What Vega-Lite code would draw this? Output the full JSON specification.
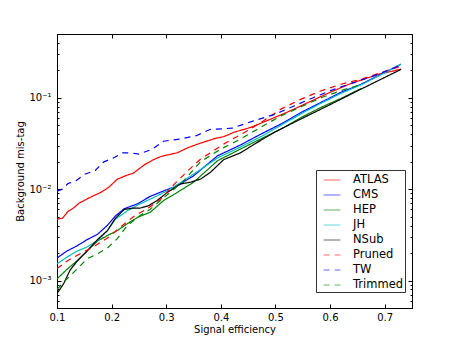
{
  "$schema": "https://vega.github.io/schema/vega-lite/v6.json",
  "width": 355,
  "height": 274,
  "autosize": {"type": "none"},
  "padding": {"left": 57, "top": 34, "right": 45, "bottom": 35},
  "background": "white",
  "config": {
    "font": "DejaVu Sans",
    "view": {"stroke": "black", "strokeWidth": 1},
    "axis": {"domainColor": "black", "tickColor": "black", "labelColor": "black", "titleColor": "black", "grid": false, "labelFont": "DejaVu Sans", "titleFont": "DejaVu Sans", "labelFontSize": 10, "titleFontSize": 10, "titleFontWeight": "normal"},
    "legend": {"labelFont": "DejaVu Sans"}
  },
  "datasets": {
    "curves": [
      {"s": "ATLAS", "x": 0.1, "y": 0.0047}, {"s": "ATLAS", "x": 0.11, "y": 0.0048}, {"s": "ATLAS", "x": 0.12, "y": 0.0057}, {"s": "ATLAS", "x": 0.13, "y": 0.0062}, {"s": "ATLAS", "x": 0.14, "y": 0.007}, {"s": "ATLAS", "x": 0.16, "y": 0.0081}, {"s": "ATLAS", "x": 0.18, "y": 0.0092}, {"s": "ATLAS", "x": 0.195, "y": 0.0105}, {"s": "ATLAS", "x": 0.21, "y": 0.0128}, {"s": "ATLAS", "x": 0.225, "y": 0.014}, {"s": "ATLAS", "x": 0.24, "y": 0.015}, {"s": "ATLAS", "x": 0.26, "y": 0.0185}, {"s": "ATLAS", "x": 0.275, "y": 0.0208}, {"s": "ATLAS", "x": 0.29, "y": 0.0228}, {"s": "ATLAS", "x": 0.32, "y": 0.025}, {"s": "ATLAS", "x": 0.34, "y": 0.0285}, {"s": "ATLAS", "x": 0.36, "y": 0.0315}, {"s": "ATLAS", "x": 0.39, "y": 0.036}, {"s": "ATLAS", "x": 0.405, "y": 0.0375}, {"s": "ATLAS", "x": 0.424, "y": 0.042}, {"s": "ATLAS", "x": 0.455, "y": 0.0475}, {"s": "ATLAS", "x": 0.49, "y": 0.058}, {"s": "ATLAS", "x": 0.52, "y": 0.069}, {"s": "ATLAS", "x": 0.56, "y": 0.089}, {"s": "ATLAS", "x": 0.6, "y": 0.115}, {"s": "ATLAS", "x": 0.64, "y": 0.145}, {"s": "ATLAS", "x": 0.69, "y": 0.182}, {"s": "ATLAS", "x": 0.73, "y": 0.206},
      {"s": "CMS", "x": 0.1, "y": 0.00176}, {"s": "CMS", "x": 0.118, "y": 0.0021}, {"s": "CMS", "x": 0.137, "y": 0.0024}, {"s": "CMS", "x": 0.155, "y": 0.0028}, {"s": "CMS", "x": 0.174, "y": 0.0032}, {"s": "CMS", "x": 0.192, "y": 0.004}, {"s": "CMS", "x": 0.207, "y": 0.0051}, {"s": "CMS", "x": 0.223, "y": 0.0061}, {"s": "CMS", "x": 0.247, "y": 0.0069}, {"s": "CMS", "x": 0.27, "y": 0.0083}, {"s": "CMS", "x": 0.29, "y": 0.0093}, {"s": "CMS", "x": 0.32, "y": 0.0109}, {"s": "CMS", "x": 0.35, "y": 0.014}, {"s": "CMS", "x": 0.394, "y": 0.0232}, {"s": "CMS", "x": 0.436, "y": 0.0305}, {"s": "CMS", "x": 0.473, "y": 0.04}, {"s": "CMS", "x": 0.51, "y": 0.0517}, {"s": "CMS", "x": 0.547, "y": 0.0692}, {"s": "CMS", "x": 0.583, "y": 0.089}, {"s": "CMS", "x": 0.62, "y": 0.115}, {"s": "CMS", "x": 0.657, "y": 0.141}, {"s": "CMS", "x": 0.694, "y": 0.182}, {"s": "CMS", "x": 0.73, "y": 0.233},
      {"s": "HEP", "x": 0.1, "y": 0.00104}, {"s": "HEP", "x": 0.118, "y": 0.00132}, {"s": "HEP", "x": 0.137, "y": 0.00165}, {"s": "HEP", "x": 0.155, "y": 0.0021}, {"s": "HEP", "x": 0.174, "y": 0.0027}, {"s": "HEP", "x": 0.192, "y": 0.0031}, {"s": "HEP", "x": 0.21, "y": 0.0035}, {"s": "HEP", "x": 0.229, "y": 0.0042}, {"s": "HEP", "x": 0.247, "y": 0.0049}, {"s": "HEP", "x": 0.271, "y": 0.0056}, {"s": "HEP", "x": 0.295, "y": 0.0075}, {"s": "HEP", "x": 0.32, "y": 0.0092}, {"s": "HEP", "x": 0.35, "y": 0.0119}, {"s": "HEP", "x": 0.394, "y": 0.0205}, {"s": "HEP", "x": 0.436, "y": 0.0275}, {"s": "HEP", "x": 0.473, "y": 0.0355}, {"s": "HEP", "x": 0.51, "y": 0.0455}, {"s": "HEP", "x": 0.547, "y": 0.061}, {"s": "HEP", "x": 0.583, "y": 0.0785}, {"s": "HEP", "x": 0.62, "y": 0.0985}, {"s": "HEP", "x": 0.657, "y": 0.127},
      {"s": "JH", "x": 0.1, "y": 0.00152}, {"s": "JH", "x": 0.118, "y": 0.0018}, {"s": "JH", "x": 0.137, "y": 0.0021}, {"s": "JH", "x": 0.155, "y": 0.00233}, {"s": "JH", "x": 0.174, "y": 0.00273}, {"s": "JH", "x": 0.192, "y": 0.0035}, {"s": "JH", "x": 0.207, "y": 0.0047}, {"s": "JH", "x": 0.229, "y": 0.0058}, {"s": "JH", "x": 0.25, "y": 0.0068}, {"s": "JH", "x": 0.277, "y": 0.0081}, {"s": "JH", "x": 0.302, "y": 0.0096}, {"s": "JH", "x": 0.33, "y": 0.0122}, {"s": "JH", "x": 0.36, "y": 0.016}, {"s": "JH", "x": 0.394, "y": 0.022}, {"s": "JH", "x": 0.436, "y": 0.029}, {"s": "JH", "x": 0.473, "y": 0.0375}, {"s": "JH", "x": 0.51, "y": 0.05}, {"s": "JH", "x": 0.547, "y": 0.067}, {"s": "JH", "x": 0.583, "y": 0.087}, {"s": "JH", "x": 0.62, "y": 0.112}, {"s": "JH", "x": 0.657, "y": 0.139}, {"s": "JH", "x": 0.694, "y": 0.18}, {"s": "JH", "x": 0.73, "y": 0.235},
      {"s": "NSub", "x": 0.1, "y": 0.00072}, {"s": "NSub", "x": 0.112, "y": 0.00092}, {"s": "NSub", "x": 0.124, "y": 0.0013}, {"s": "NSub", "x": 0.137, "y": 0.00163}, {"s": "NSub", "x": 0.155, "y": 0.0021}, {"s": "NSub", "x": 0.174, "y": 0.0028}, {"s": "NSub", "x": 0.192, "y": 0.0035}, {"s": "NSub", "x": 0.207, "y": 0.0048}, {"s": "NSub", "x": 0.223, "y": 0.006}, {"s": "NSub", "x": 0.238, "y": 0.0062}, {"s": "NSub", "x": 0.252, "y": 0.0062}, {"s": "NSub", "x": 0.268, "y": 0.0066}, {"s": "NSub", "x": 0.283, "y": 0.0075}, {"s": "NSub", "x": 0.302, "y": 0.0092}, {"s": "NSub", "x": 0.326, "y": 0.0114}, {"s": "NSub", "x": 0.344, "y": 0.0119}, {"s": "NSub", "x": 0.363, "y": 0.0129}, {"s": "NSub", "x": 0.381, "y": 0.0153}, {"s": "NSub", "x": 0.405, "y": 0.021}, {"s": "NSub", "x": 0.436, "y": 0.025}, {"s": "NSub", "x": 0.461, "y": 0.031}, {"s": "NSub", "x": 0.498, "y": 0.0419}, {"s": "NSub", "x": 0.534, "y": 0.0539}, {"s": "NSub", "x": 0.571, "y": 0.0692}, {"s": "NSub", "x": 0.608, "y": 0.089}, {"s": "NSub", "x": 0.645, "y": 0.115}, {"s": "NSub", "x": 0.681, "y": 0.147}, {"s": "NSub", "x": 0.73, "y": 0.205},
      {"s": "Pruned", "x": 0.1, "y": 0.00135}, {"s": "Pruned", "x": 0.12, "y": 0.00166}, {"s": "Pruned", "x": 0.145, "y": 0.002}, {"s": "Pruned", "x": 0.17, "y": 0.0024}, {"s": "Pruned", "x": 0.195, "y": 0.003}, {"s": "Pruned", "x": 0.215, "y": 0.0038}, {"s": "Pruned", "x": 0.24, "y": 0.005}, {"s": "Pruned", "x": 0.265, "y": 0.0061}, {"s": "Pruned", "x": 0.29, "y": 0.0078}, {"s": "Pruned", "x": 0.314, "y": 0.0112}, {"s": "Pruned", "x": 0.34, "y": 0.016}, {"s": "Pruned", "x": 0.363, "y": 0.0214}, {"s": "Pruned", "x": 0.387, "y": 0.0264}, {"s": "Pruned", "x": 0.41, "y": 0.0325}, {"s": "Pruned", "x": 0.436, "y": 0.0395}, {"s": "Pruned", "x": 0.47, "y": 0.052}, {"s": "Pruned", "x": 0.51, "y": 0.0753}, {"s": "Pruned", "x": 0.547, "y": 0.0968}, {"s": "Pruned", "x": 0.583, "y": 0.119}, {"s": "Pruned", "x": 0.62, "y": 0.141}, {"s": "Pruned", "x": 0.657, "y": 0.16}, {"s": "Pruned", "x": 0.694, "y": 0.19}, {"s": "Pruned", "x": 0.73, "y": 0.222},
      {"s": "TW", "x": 0.1, "y": 0.0095}, {"s": "TW", "x": 0.11, "y": 0.01}, {"s": "TW", "x": 0.12, "y": 0.0115}, {"s": "TW", "x": 0.135, "y": 0.0124}, {"s": "TW", "x": 0.15, "y": 0.0145}, {"s": "TW", "x": 0.17, "y": 0.016}, {"s": "TW", "x": 0.185, "y": 0.0198}, {"s": "TW", "x": 0.205, "y": 0.0222}, {"s": "TW", "x": 0.22, "y": 0.025}, {"s": "TW", "x": 0.235, "y": 0.025}, {"s": "TW", "x": 0.25, "y": 0.0242}, {"s": "TW", "x": 0.275, "y": 0.0275}, {"s": "TW", "x": 0.295, "y": 0.0335}, {"s": "TW", "x": 0.325, "y": 0.0354}, {"s": "TW", "x": 0.355, "y": 0.0385}, {"s": "TW", "x": 0.38, "y": 0.045}, {"s": "TW", "x": 0.42, "y": 0.0465}, {"s": "TW", "x": 0.46, "y": 0.056}, {"s": "TW", "x": 0.5, "y": 0.0664}, {"s": "TW", "x": 0.535, "y": 0.082}, {"s": "TW", "x": 0.57, "y": 0.101}, {"s": "TW", "x": 0.607, "y": 0.124}, {"s": "TW", "x": 0.644, "y": 0.147}, {"s": "TW", "x": 0.68, "y": 0.174}, {"s": "TW", "x": 0.73, "y": 0.228},
      {"s": "Trimmed", "x": 0.1, "y": 0.0008}, {"s": "Trimmed", "x": 0.118, "y": 0.00104}, {"s": "Trimmed", "x": 0.137, "y": 0.00134}, {"s": "Trimmed", "x": 0.155, "y": 0.00173}, {"s": "Trimmed", "x": 0.174, "y": 0.00196}, {"s": "Trimmed", "x": 0.192, "y": 0.00226}, {"s": "Trimmed", "x": 0.21, "y": 0.00286}, {"s": "Trimmed", "x": 0.229, "y": 0.004}, {"s": "Trimmed", "x": 0.247, "y": 0.0049}, {"s": "Trimmed", "x": 0.27, "y": 0.006}, {"s": "Trimmed", "x": 0.3, "y": 0.0085}, {"s": "Trimmed", "x": 0.33, "y": 0.012}, {"s": "Trimmed", "x": 0.363, "y": 0.02}, {"s": "Trimmed", "x": 0.4, "y": 0.0275}, {"s": "Trimmed", "x": 0.436, "y": 0.0354}, {"s": "Trimmed", "x": 0.473, "y": 0.0475}, {"s": "Trimmed", "x": 0.51, "y": 0.0635}, {"s": "Trimmed", "x": 0.547, "y": 0.08}, {"s": "Trimmed", "x": 0.583, "y": 0.1}, {"s": "Trimmed", "x": 0.62, "y": 0.12}, {"s": "Trimmed", "x": 0.657, "y": 0.14}
    ]
  },
  "data": {"name": "curves"},
  "layer": [
    {
      "mark": {"type": "line", "strokeWidth": 1.2, "clip": true},
      "encoding": {
        "x": {"field": "x", "type": "quantitative", "scale": {"domain": [0.1, 0.75], "nice": false, "zero": false},
          "axis": {"orient": "bottom", "values": [0.1, 0.2, 0.3, 0.4, 0.5, 0.6, 0.7], "format": ".1f", "tickSize": -4, "labelPadding": 8, "title": "Signal efficiency", "titlePadding": 2, "labelFlush": false}},
        "y": {"field": "y", "type": "quantitative", "scale": {"type": "log", "domain": [0.0005, 0.5], "nice": false},
          "axis": {"orient": "left", "values": [0.0005, 0.0006, 0.0007, 0.0008, 0.0009, 0.001, 0.002, 0.003, 0.004, 0.005, 0.006, 0.007, 0.008, 0.009, 0.01, 0.02, 0.03, 0.04, 0.05, 0.06, 0.07, 0.08, 0.09, 0.1, 0.2, 0.3, 0.4, 0.5],
            "labelExpr": "datum.value == 0.1 ? '10⁻¹' : datum.value == 0.01 ? '10⁻²' : datum.value == 0.001 ? '10⁻³' : ''",
            "tickSize": {"condition": {"test": "datum.value == 0.1 || datum.value == 0.01 || datum.value == 0.001", "value": -4}, "value": -2},
            "labelPadding": 10, "title": "Background mis-tag", "titlePadding": 3, "labelFlush": false}},
        "color": {"field": "s", "type": "nominal", "title": null,
          "scale": {"domain": ["ATLAS", "CMS", "HEP", "JH", "NSub", "Pruned", "TW", "Trimmed"], "range": ["#ff0000", "#0000ff", "#008000", "#00bfbf", "#000000", "#ff0000", "#0000ff", "#008000"]},
          "legend": {"orient": "none", "legendX": 259, "legendY": 136, "symbolType": "stroke", "symbolSize": 280, "symbolStrokeWidth": 1.2, "labelFontSize": 11.5, "labelColor": "black", "padding": 1, "rowPadding": 0, "symbolOffset": 6, "labelOffset": 12, "strokeColor": "#333333", "fillColor": "white", "symbolOpacity": 0.6}},
        "strokeDash": {"field": "s", "type": "nominal", "title": null,
          "scale": {"domain": ["ATLAS", "CMS", "HEP", "JH", "NSub", "Pruned", "TW", "Trimmed"], "range": [[1, 0], [1, 0], [1, 0], [1, 0], [1, 0], [6, 5], [6, 5], [6, 5]]}}
      }
    },
    {
      "mark": {"type": "line", "opacity": 0},
      "encoding": {
        "x": {"field": "x", "type": "quantitative",
          "axis": {"orient": "top", "values": [0.1, 0.2, 0.3, 0.4, 0.5, 0.6, 0.7], "labels": false, "tickSize": -4, "title": null}},
        "y": {"field": "y", "type": "quantitative",
          "axis": {"orient": "right", "values": [0.0005, 0.0006, 0.0007, 0.0008, 0.0009, 0.001, 0.002, 0.003, 0.004, 0.005, 0.006, 0.007, 0.008, 0.009, 0.01, 0.02, 0.03, 0.04, 0.05, 0.06, 0.07, 0.08, 0.09, 0.1, 0.2, 0.3, 0.4, 0.5],
            "labels": false, "title": null,
            "tickSize": {"condition": {"test": "datum.value == 0.1 || datum.value == 0.01 || datum.value == 0.001", "value": -4}, "value": -2}}}
      }
    }
  ],
  "resolve": {"axis": {"x": "independent", "y": "independent"}}
}
